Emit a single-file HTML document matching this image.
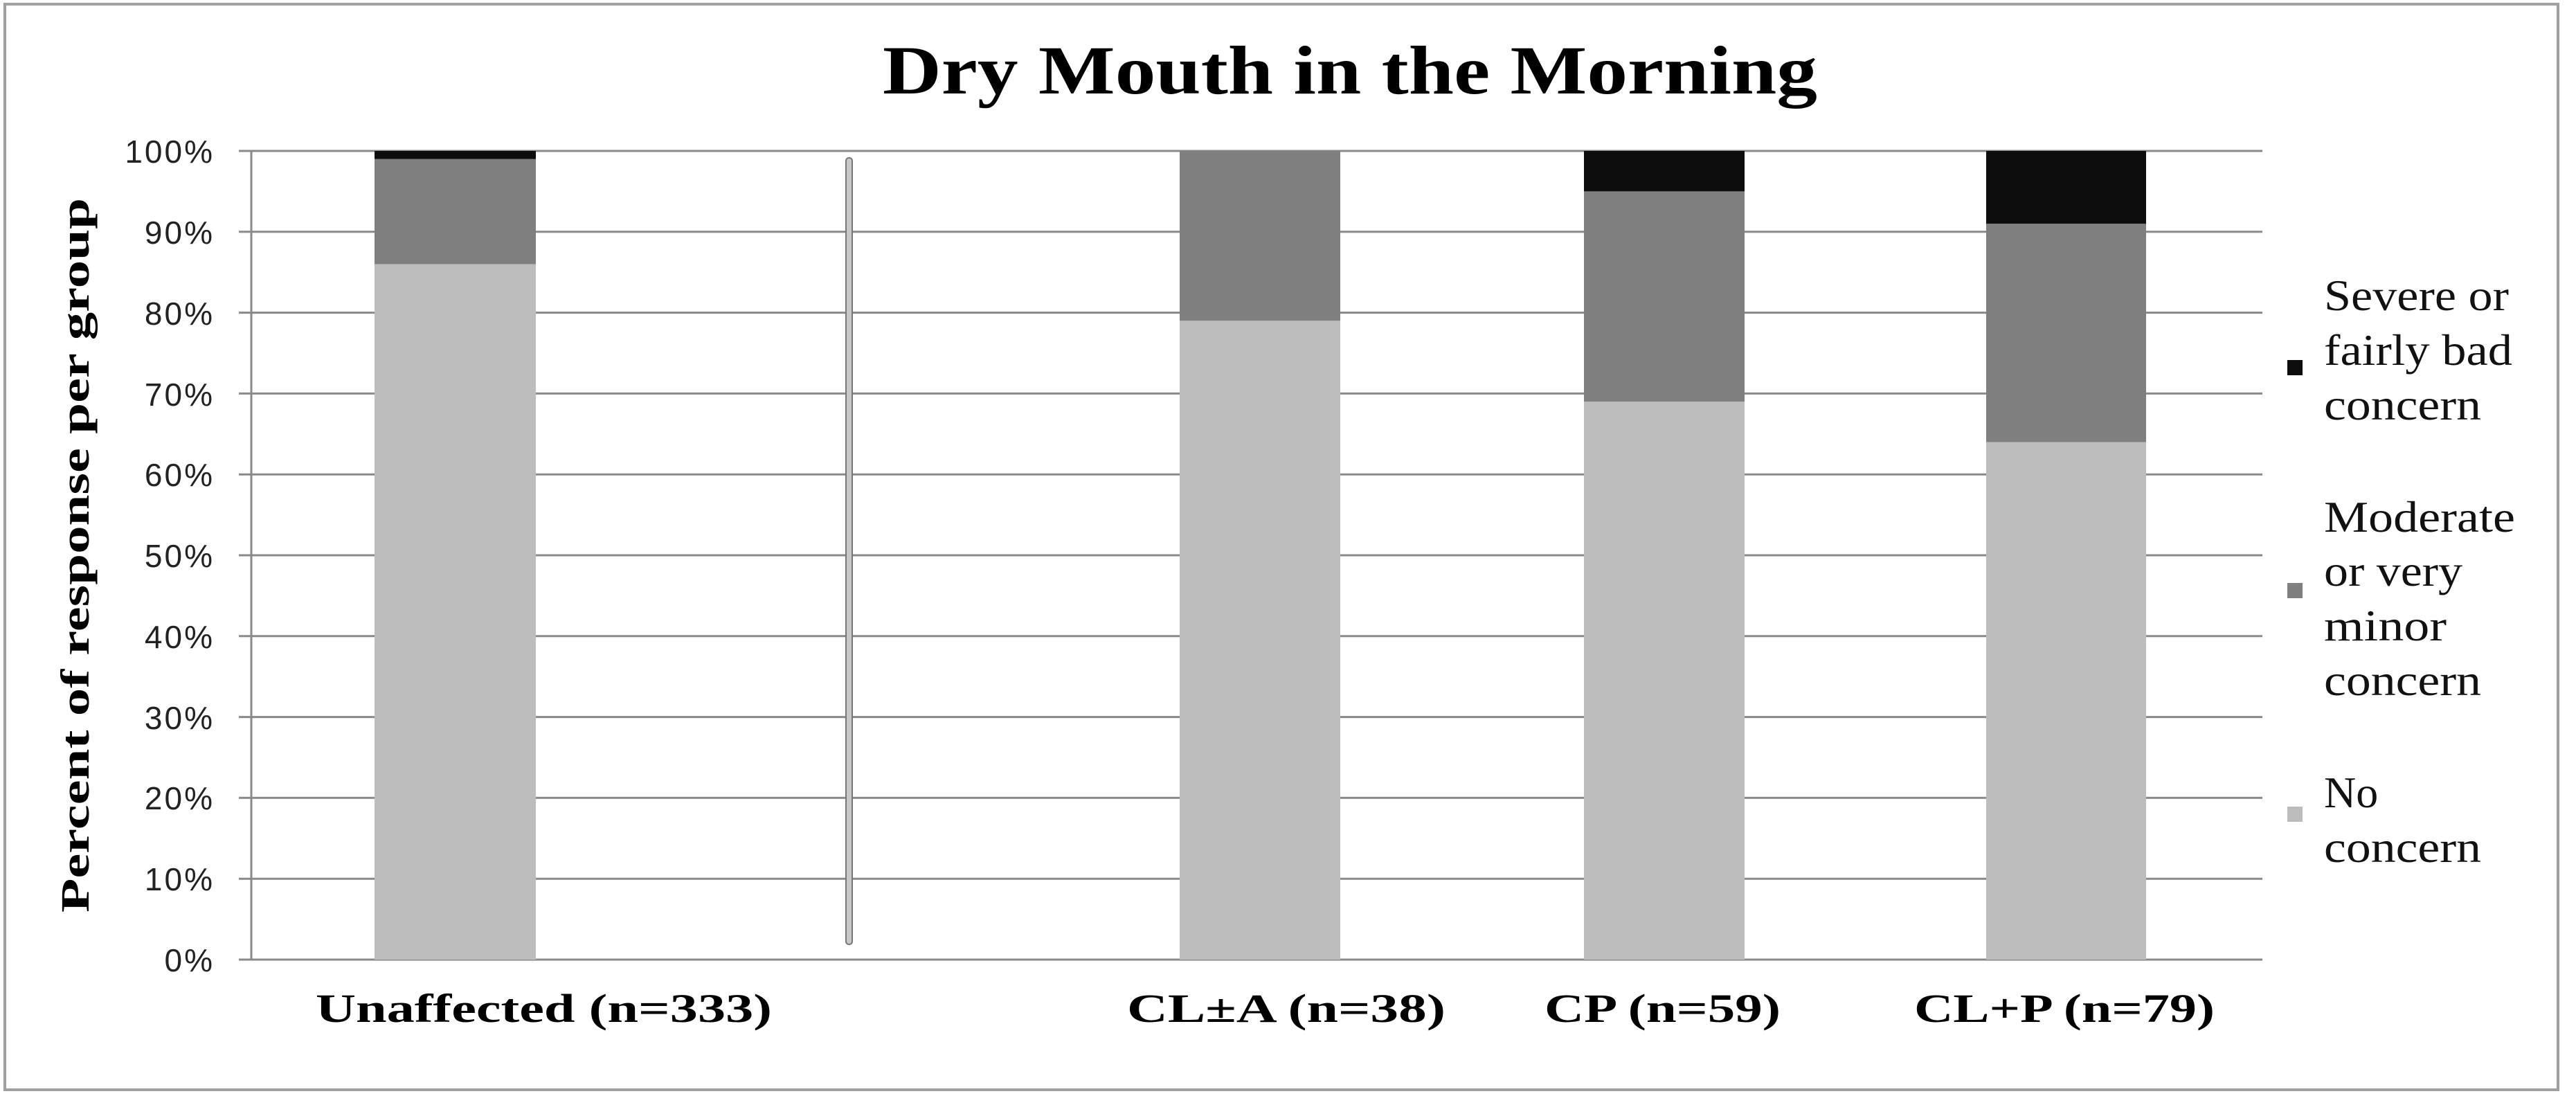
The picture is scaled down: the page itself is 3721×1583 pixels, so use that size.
<!DOCTYPE html>
<html><head><meta charset="utf-8"><style>html,body{margin:0;padding:0;background:#fff}svg{display:block}</style></head>
<body>
<svg width="3721" height="1583" viewBox="0 0 3721 1583" xmlns="http://www.w3.org/2000/svg">
<rect x="0" y="0" width="3721" height="1583" fill="#fff"/>
<rect x="7" y="6" width="3688" height="1568" fill="none" stroke="#a0a0a0" stroke-width="4"/>
<text x="1950" y="135" text-anchor="middle" font-family="Liberation Serif, serif" font-weight="bold" font-size="100" textLength="1350" lengthAdjust="spacingAndGlyphs">Dry Mouth in the Morning</text>
<g stroke="#8a8a8a" stroke-width="3">
<line x1="345" y1="218" x2="3268" y2="218"/>
<line x1="345" y1="334.8" x2="3268" y2="334.8"/>
<line x1="345" y1="451.6" x2="3268" y2="451.6"/>
<line x1="345" y1="568.4" x2="3268" y2="568.4"/>
<line x1="345" y1="685.2" x2="3268" y2="685.2"/>
<line x1="345" y1="802" x2="3268" y2="802"/>
<line x1="345" y1="918.8" x2="3268" y2="918.8"/>
<line x1="345" y1="1035.6" x2="3268" y2="1035.6"/>
<line x1="345" y1="1152.4" x2="3268" y2="1152.4"/>
<line x1="345" y1="1269.2" x2="3268" y2="1269.2"/>
<line x1="345" y1="1386" x2="3268" y2="1386"/>
<line x1="363" y1="218" x2="363" y2="1386"/>
</g>
<g font-family="Liberation Sans, sans-serif" font-size="46" fill="#222" text-anchor="end" letter-spacing="3">
<text x="310" y="235">100%</text>
<text x="310" y="352">90%</text>
<text x="310" y="469">80%</text>
<text x="310" y="586">70%</text>
<text x="310" y="702">60%</text>
<text x="310" y="819">50%</text>
<text x="310" y="936">40%</text>
<text x="310" y="1053">30%</text>
<text x="310" y="1169">20%</text>
<text x="310" y="1286">10%</text>
<text x="310" y="1403">0%</text>
</g>
<text transform="translate(128,802) rotate(-90)" text-anchor="middle" font-family="Liberation Serif, serif" font-weight="bold" font-size="58" textLength="1032" lengthAdjust="spacingAndGlyphs">Percent of response per group</text>
<rect x="541" y="381.5" width="233" height="1004.5" fill="#bdbdbd"/>
<rect x="541" y="229.7" width="233" height="151.8" fill="#7f7f7f"/>
<rect x="541" y="218" width="233" height="11.7" fill="#0d0d0d"/>
<rect x="1704" y="463.3" width="232" height="922.7" fill="#bdbdbd"/>
<rect x="1704" y="218" width="232" height="245.3" fill="#7f7f7f"/>
<rect x="2288" y="580.1" width="232" height="805.9" fill="#bdbdbd"/>
<rect x="2288" y="276.4" width="232" height="303.7" fill="#7f7f7f"/>
<rect x="2288" y="218" width="232" height="58.4" fill="#0d0d0d"/>
<rect x="2869" y="638.5" width="231" height="747.5" fill="#bdbdbd"/>
<rect x="2869" y="323.1" width="231" height="315.4" fill="#7f7f7f"/>
<rect x="2869" y="218" width="231" height="105.1" fill="#0d0d0d"/>
<rect x="1222" y="228" width="9" height="1136" rx="4" fill="#c8c8c8" stroke="#777" stroke-width="2"/>
<g font-family="Liberation Serif, serif" font-weight="bold" font-size="58">
<text x="456" y="1476" textLength="659" lengthAdjust="spacingAndGlyphs">Unaffected (n=333)</text>
<text x="1628" y="1476" textLength="460" lengthAdjust="spacingAndGlyphs">CL±A  (n=38)</text>
<text x="2231" y="1476" textLength="341" lengthAdjust="spacingAndGlyphs">CP (n=59)</text>
<text x="2765" y="1476" textLength="434" lengthAdjust="spacingAndGlyphs">CL+P (n=79)</text>
</g>
<rect x="3304" y="520" width="22" height="22" fill="#0d0d0d"/>
<rect x="3304" y="842" width="22" height="22" fill="#7f7f7f"/>
<rect x="3304" y="1165" width="22" height="22" fill="#bdbdbd"/>
<g font-family="Liberation Serif, serif" font-size="64" fill="#111">
<text x="3357" y="448" textLength="267" lengthAdjust="spacingAndGlyphs">Severe or</text>
<text x="3357" y="527" textLength="272" lengthAdjust="spacingAndGlyphs">fairly bad</text>
<text x="3357" y="606" textLength="227" lengthAdjust="spacingAndGlyphs">concern</text>
<text x="3357" y="768" textLength="276" lengthAdjust="spacingAndGlyphs">Moderate</text>
<text x="3357" y="846" textLength="200" lengthAdjust="spacingAndGlyphs">or very</text>
<text x="3357" y="925" textLength="177" lengthAdjust="spacingAndGlyphs">minor</text>
<text x="3357" y="1004" textLength="227" lengthAdjust="spacingAndGlyphs">concern</text>
<text x="3357" y="1166">No</text>
<text x="3357" y="1245" textLength="227" lengthAdjust="spacingAndGlyphs">concern</text>
</g>
</svg>
</body></html>
